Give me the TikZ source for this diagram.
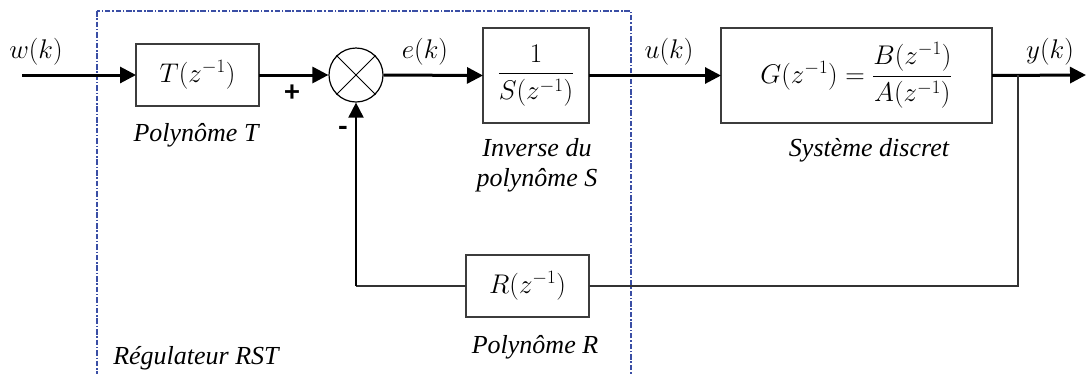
\RequirePackage{fix-cm}
\documentclass[tikz,border=0pt]{standalone}
\usepackage{amsmath}
\usepackage{fontspec}
\setmainfont{Liberation Serif}[ItalicFont={Liberation Serif Italic}]
\newfontfamily\signfont{Carlito}
\usetikzlibrary{arrows.meta}
\definecolor{frame}{RGB}{58,78,165}
\definecolor{boxline}{RGB}{60,60,60}
\begin{document}
\begin{tikzpicture}[x=1pt,y=-1pt,
  font=\fontsize{27}{31}\selectfont,
  blk/.style={draw=boxline, line width=1.3pt, inner sep=0pt, outer sep=0pt, fill=white},
  sig/.style={line width=3pt, -{Triangle[length=16pt,width=16pt]}},
  fbthin/.style={draw=black!80, line width=1.3pt},
  fbup/.style={line width=2pt, -{Triangle[length=15pt,width=15pt]}},
  lbl/.style={font=\fontsize{26}{30}\selectfont\itshape, inner sep=0pt, align=center},
  sgn/.style={font=\fontsize{30}{34}\selectfont\signfont\bfseries, inner sep=0pt},
  dashbox/.style={draw=frame, line width=1.2pt, dash pattern=on 5.5pt off 1.8pt on 1.5pt off 1.8pt}
]
\useasboundingbox (0,0) rectangle (1086,373);

% regulator frame
\draw[dashbox] (97,11) rectangle (631,390);

% blocks
\node[blk, minimum width=123pt, minimum height=62pt] (T) at (197.5,75) {$T(z^{-1})$};
\node[draw=black, line width=1.2pt, circle, inner sep=0pt, minimum size=54pt] (sum) at (356,75) {};
\draw[line width=1pt] (sum.north west) -- (sum.south east) (sum.north east) -- (sum.south west);
\node[blk, minimum width=106pt, minimum height=95pt] (S) at (536,75.5) {$\dfrac{1}{S(z^{-1})}$};
\node[blk, minimum width=271pt, minimum height=95pt] (G) at (856.5,75.5) {$G(z^{-1})=\dfrac{B(z^{-1})}{A(z^{-1})}$};
\node[blk, minimum width=123pt, minimum height=62pt] (R) at (527.5,286) {$R(z^{-1})$};

\coordinate (in) at (22,75);
\coordinate (out) at (1086,75);
\coordinate (br) at (1018,75);
\coordinate (fb) at (356,286);

% forward path
\draw[sig] (in) -- (T.west);
\draw[sig] (T.east) -- (sum.west);
\draw[sig] (sum.east) -- (S.west);
\draw[sig] (S.east) -- (G.west);
\draw[sig] (G.east) -- (out);

% feedback path
\draw[fbthin] (br) |- (R.east);
\draw[fbthin] (R.west) -- (fb);
\draw[fbup] (fb) -- (sum.south);

% signal labels
\node (w) at (36,52) {$w(k)$};
\node (e) at (425,52) {$e(k)$};
\node (u) at (669,52) {$u(k)$};
\node (y) at (1050,52) {$y(k)$};
\node[sgn] (plus) at (292,93) {+};
\node[sgn] (minus) at (343,131) {-};

% descriptive labels
\node[lbl] (lT) at (196,135) {Polynôme T};
\node[lbl] (lS) at (537,165) {Inverse du\\polynôme S};
\node[lbl] (lG) at (869,150) {Système discret};
\node[lbl] (lR) at (535,347) {Polynôme R};
\node[lbl] (lRST) at (196,358) {Régulateur RST};
\end{tikzpicture}
\end{document}
